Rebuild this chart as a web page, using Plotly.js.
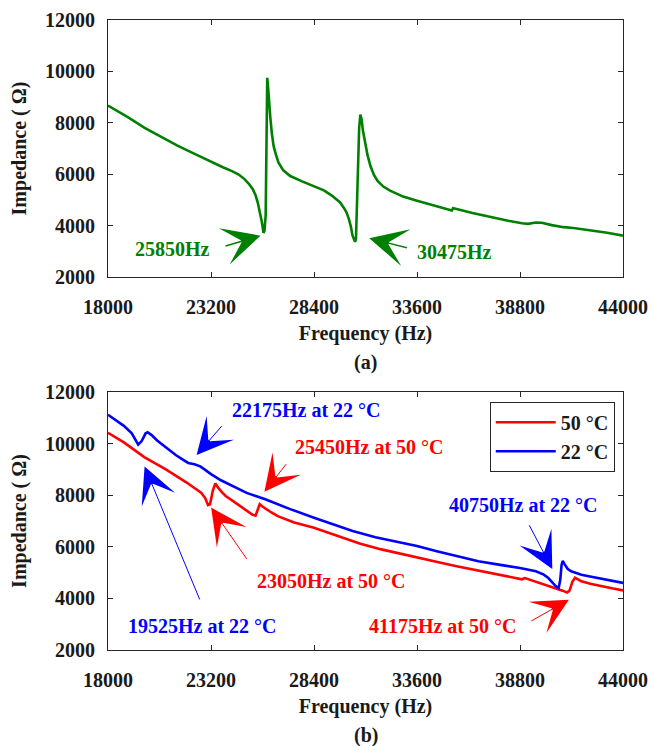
<!DOCTYPE html>
<html>
<head>
<meta charset="utf-8">
<script src="https://cdn.plot.ly/plotly-3.0.1.min.js"></script>
<style>html,body{margin:0;padding:0;background:#fff;}#chart{width:652px;height:746px;}</style>
</head>
<body>
<div id="chart"></div>
<script>
// ---- Data (a): single resonator response ----
const freqA = [18000,19000,19850,20700,21530,22400,23200,23800,24260,24600,24890,25100,25310,25450,25560,25680,25770,25850,25900,25960,26000,26040,26080,26130,26190,26270,26360,26480,26610,26850,27200,27800,28400,28900,29300,29550,29720,29900,30040,30150,30250,30350,30430,30475,30520,30600,30680,30740,30800,30870,30980,31100,31250,31420,31610,31900,32240,32900,33600,34400,35100,35300,35360,35420,35500,36400,37280,38200,38900,39200,39600,39900,40400,41000,41500,42400,43200,44000];
const impA  = [8670,8220,7800,7440,7100,6780,6480,6270,6120,5990,5810,5640,5420,5180,4900,4480,4130,3720,3800,4400,7200,9750,9400,8800,8250,7600,7100,6750,6450,6150,5930,5720,5540,5370,5170,5020,4900,4700,4520,4280,4000,3600,3400,3370,3500,5680,7800,8320,8150,7700,7230,6750,6320,5980,5740,5520,5360,5130,4970,4810,4660,4620,4590,4680,4670,4490,4330,4190,4090,4070,4120,4110,4020,3940,3910,3820,3720,3610];

// ---- Data (b): 22 °C and 50 °C ----
const freq22 = [18000,18400,18800,19200,19525,19700,19900,20000,20200,20480,20800,21110,21420,21740,22050,22175,22370,22680,23200,23700,24260,25000,25940,27200,28400,29400,30350,31500,32500,33600,34600,35600,36700,37800,38800,39600,40000,40230,40450,40600,40750,40830,40900,40960,41050,41200,41380,41900,42400,42950,43500,44000];
const imp22  = [11120,10920,10690,10400,9960,10100,10400,10440,10330,10120,9920,9730,9560,9400,9250,9230,9200,9110,8820,8580,8360,8090,7840,7460,7130,6850,6610,6370,6200,6030,5830,5640,5440,5300,5180,5050,4920,4790,4600,4480,4400,4700,5300,5450,5330,5150,5050,4920,4840,4760,4680,4600];

const freq50 = [18000,18800,19850,20900,21950,22400,22700,22900,23050,23150,23300,23420,23550,23750,23940,24300,24680,25000,25300,25450,25560,25660,25800,25940,26250,26570,27400,28400,29200,30040,30700,31800,33600,34800,35600,36800,37800,38800,38900,39050,39800,40300,40650,40950,41175,41300,41450,41580,41750,41900,42400,42950,43500,44000];
const imp50  = [10420,10050,9470,9010,8500,8260,8100,7900,7620,7650,8200,8460,8300,8120,7970,7780,7580,7420,7240,7210,7480,7650,7560,7480,7330,7190,6940,6740,6530,6280,6130,5900,5570,5380,5250,5070,4930,4770,4740,4790,4600,4480,4400,4300,4230,4300,4650,4800,4730,4660,4560,4460,4380,4310];

const seriesNames = ['50 °C', '22 °C'];
const xTickVals = [18000,23200,28400,33600,38800,44000];
const xTickText = ['18000','23200','28400','33600','38800','44000'];
const yTickVals = [2000,4000,6000,8000,10000,12000];
const yTickText = ['2000','4000','6000','8000','10000','12000'];

const FONT = 'Times New Roman, Liberation Serif, DejaVu Serif, serif';
const GREEN = '#008000', RED = '#ff0000', BLUE = '#0000ff', AX = '#262626';

const traces = [
  {x: freqA, y: impA, xaxis: 'x', yaxis: 'y', type: 'scatter', mode: 'lines',
   line: {color: GREEN, width: 2.6}, showlegend: false, hoverinfo: 'skip'},
  {x: freq50, y: imp50, xaxis: 'x2', yaxis: 'y2', type: 'scatter', mode: 'lines',
   name: '<b>' + seriesNames[0] + '</b>', line: {color: RED, width: 2.6}},
  {x: freq22, y: imp22, xaxis: 'x2', yaxis: 'y2', type: 'scatter', mode: 'lines',
   name: '<b>' + seriesNames[1] + '</b>', line: {color: BLUE, width: 2.6}}
];

function F(color) { return {family: FONT, size: 20, color: color || '#1a1a1a'}; }

function xax(anchor) {
  return {
    anchor: anchor, range: [18000, 44000], tickmode: 'array', tickvals: xTickVals,
    ticktext: xTickText.map(t => '<b>' + t + '</b>'),
    showline: true, linecolor: AX, linewidth: 1, mirror: 'ticks', ticks: 'inside', ticklen: 5,
    tickcolor: AX, showgrid: false, zeroline: false, ticklabelstandoff: 12,
    tickfont: F(),
    title: {text: '<b>Frequency (Hz)</b>', standoff: 8, font: F()}
  };
}
function yax(anchor, domain) {
  return {
    anchor: anchor, domain: domain, range: [2000, 12000], tickmode: 'array', tickvals: yTickVals,
    ticktext: yTickText.map(t => '<b>' + t + '</b>'),
    showline: true, linecolor: AX, linewidth: 1, mirror: 'ticks', ticks: 'inside', ticklen: 5,
    tickcolor: AX, showgrid: false, zeroline: false, ticklabelstandoff: 8,
    tickfont: F(),
    title: {text: '<b>Impedance ( Ω)</b>', standoff: 12, font: F()}
  };
}

function txt(xref, yref, x, y, text, color) {
  return {xref: xref, yref: yref, x: x, y: y, text: '<b>' + text + '</b>', showarrow: false,
          font: F(color), xanchor: 'center', yanchor: 'middle'};
}
function arr(xref, yref, x, y, tx, ty, color, w, size) {
  return {xref: xref, yref: yref, x: x, y: y, axref: xref, ayref: yref, ax: tx, ay: ty, text: ' ',
          showarrow: true, arrowhead: 3, arrowcolor: color, arrowwidth: w, arrowsize: size, standoff: 0, startstandoff: 0};
}

const annotations = [
  // (a)
  txt('x', 'y', 21276, 3097, '25850Hz', GREEN),
  arr('x', 'y', 25700, 3610, 23733, 3160, GREEN, 1.5, 4.2),
  txt('x', 'y', 35494, 2968, '30475Hz', GREEN),
  arr('x', 'y', 31189, 3510, 33289, 3097, GREEN, 1.5, 4.2),
  // (b)
  txt('x2', 'y2', 28039, 11286, '22175Hz at 22 °C', BLUE),
  arr('x2', 'y2', 22473, 9558, 23943, 10857, BLUE, 1, 6),
  txt('x2', 'y2', 31189, 9883, '25450Hz at 50 °C', RED),
  arr('x2', 'y2', 25897, 8130, 27199, 9403, RED, 1, 6),
  txt('x2', 'y2', 38960, 7610, '40750Hz at 22 °C', BLUE),
  arr('x2', 'y2', 40430, 5143, 39064, 7130, BLUE, 1, 6),
  txt('x2', 'y2', 29299, 4688, '23050Hz at 50 °C', RED),
  arr('x2', 'y2', 23208, 7519, 25203, 5312, RED, 1, 6),
  txt('x2', 'y2', 22789, 2935, '19525Hz at 22 °C', BLUE),
  arr('x2', 'y2', 19848, 9117, 22831, 3584, BLUE, 1, 6),
  txt('x2', 'y2', 34864, 2935, '41175Hz at 50 °C', RED),
  arr('x2', 'y2', 41270, 3948, 39170, 3039, RED, 1, 6),
  // panel labels
  txt('paper', 'paper', 0.5, 0.4556, '(a)', '#1a1a1a'),
  txt('paper', 'paper', 0.5, -0.135, '(b)', '#1a1a1a')
];

const layout = {
  width: 652, height: 746,
  margin: {l: 108, r: 29, t: 20, b: 96},
  paper_bgcolor: '#ffffff', plot_bgcolor: '#ffffff',
  font: F(),
  xaxis: xax('y'),
  yaxis: yax('x', [0.592, 1]),
  xaxis2: xax('y2'),
  yaxis2: yax('x2', [0, 0.4095]),
  showlegend: true,
  legend: {x: 0.984, y: 0.394, xref: 'paper', yref: 'paper', xanchor: 'right', yanchor: 'top',
           bordercolor: AX, borderwidth: 1, bgcolor: '#ffffff', itemwidth: 60,
           font: F()},
  annotations: annotations
};

Plotly.newPlot('chart', traces, layout, {displayModeBar: false, staticPlot: true});
</script>
</body>
</html>
